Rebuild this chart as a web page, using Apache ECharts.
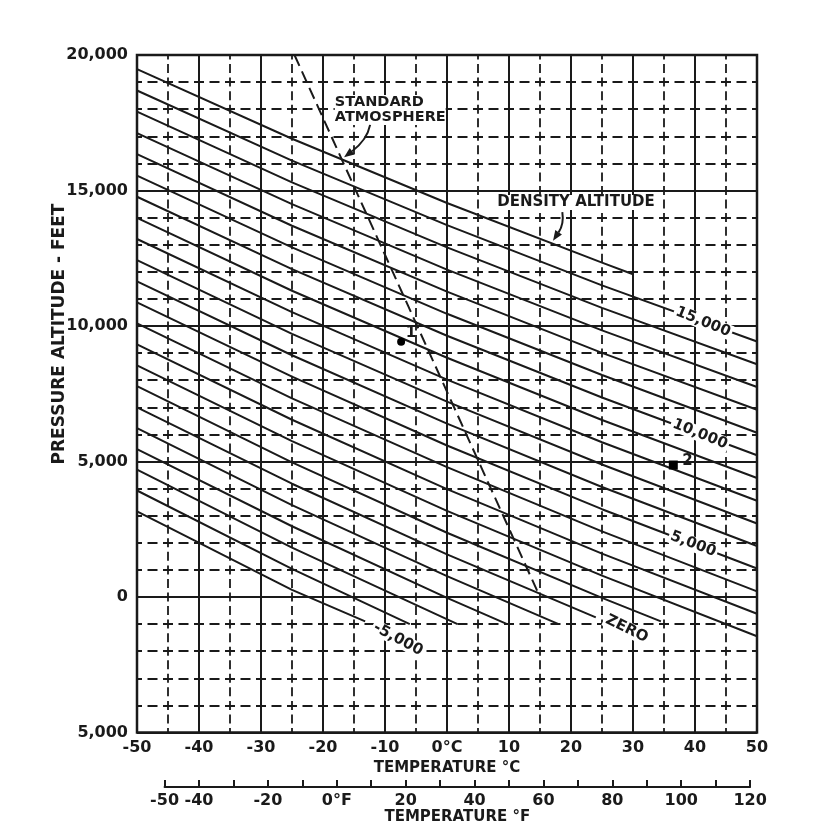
<!DOCTYPE html>
<html>
<head>
<meta charset="utf-8">
<title>Density altitude chart</title>
<script src="https://cdn.jsdelivr.net/npm/echarts@6/dist/echarts.min.js"></script>
<style>
  html, body { margin: 0; padding: 0; background: #fff; }
  #main { width: 828px; height: 839px; }
</style>
</head>
<body>
<div id="main"></div>
<script>
// temperature columns (deg C) at which the density altitude lines were read
const tempCols = [-50, -25, 0, 25, 50]
// density altitude of each diagonal line, feet
const densityAltitudes = [16000, 15000, 14000, 13000, 12000, 11000, 10000, 9000, 8000, 7000, 6000,
  5000, 4000, 3000, 2000, 1000, 0, -1000, -2000, -3000, -4000, -5000]
// pressure altitude of each line at tempCols (null = the line has already stopped)
const lineValues = [
  [19480, 16910, 14540, 12340, null],
  [18690, 16100, 13720, 11500, 9430],
  [17910, 15300, 12900, 10670, 8590],
  [17120, 14500, 12080, 9840, 7750],
  [16340, 13700, 11270, 9010, 6910],
  [15550, 12900, 10450, 8190, 6060],
  [14770, 12100, 9640, 7360, 5230],
  [13990, 11300, 8830, 6530, 4390],
  [13210, 10510, 8020, 5710, 3550],
  [12430, 9710, 7210, 4890, 2710],
  [11650, 8920, 6400, 4060, 1880],
  [10870, 8130, 5590, 3240, 1050],
  [10100, 7330, 4790, 2420, 210],
  [9320, 6540, 3980, 1600, -620],
  [8550, 5750, 3180, 790, -1450],
  [7780, 4970, 2370, -30, null],
  [7000, 4180, 1570, null, null],
  [6230, 3390, 770, null, null],
  [5460, 2610, -30, null, null],
  [4700, 1820, null, null, null],
  [3930, 1040, null, null, null],
  [3160, 260, null, null, null]
]
// where the shorter lines stop: [temp C, pressure altitude ft]
const lineEnds = [
  [30, 11910], null, null, null, null, null, null, null, null, null, null,
  null, null, null, null, [34.5, -900], [24, -750], [18, -1000], [9.7, -1000],
  [1.7, -1000], [-6, -1000], [-13.2, -900]
]
// standard atmosphere (dashed)
const stdAtmosphere = [[-24.6, 20000], [15, 0]]
// numbered example points and their numbers
const point1 = [-7.4, 9420]
const point2 = [36.5, 4870]
const pointNames = ['1', '2']
const pointNamePos = [[-5.8, 9730], [38.8, 5000]]
// labels written along the lines
const lineLabelText = ['15,000', '10,000', '5,000', 'ZERO', '-5,000']
const lineLabelPos = [[41.3, 10150], [40.8, 6010], [39.7, 1950], [29, -1180], [-7.9, -1560]]
const lineLabelAngle = [22, 22, 21, 26, 28]
// callouts: text corners and curved arrows (start, bend, tip)
const stdTextPos = [-18.1, 18520]
const daTextPos = [8.1, 14830]
const stdArrow = [[-12.4, 17420], [-12.9, 16860], [-16.6, 16230]]
const daArrow = [[18.6, 14200], [18.9, 13760], [17.1, 13150]]
// axis ticks
const fahrenheitTicks = [-50, -40, -20, 0, 20, 40, 60, 80, 100, 120]

const ink = '#1a1a1a'
const font = "'DejaVu Sans', sans-serif"

// plot frame in pixels
const plotLeft = 137
const plotRight = 757
const plotTop = 55
const plotBottom = 732.5
const cToPx = c => plotLeft + (c + 50) / 100 * (plotRight - plotLeft)
const fLeft = cToPx((-50 - 32) / 1.8)
const fRight = cToPx((120 - 32) / 1.8)

var myChart = echarts.init(document.getElementById('main'))

const lineSeries = densityAltitudes.map((da, i) => {
  const end = lineEnds[i]
  const pts = []
  tempCols.forEach((t, j) => {
    const v = lineValues[i][j]
    if (v !== null && (!end || t < end[0])) pts.push([t, v])
  })
  if (end) pts.push(end)
  return {
    name: 'DA ' + da,
    type: 'line',
    xAxisIndex: 0,
    yAxisIndex: 0,
    data: pts,
    showSymbol: false,
    silent: true,
    lineStyle: { color: ink, width: 2 },
    z: 3
  }
})

const option = {
  animation: false,
  backgroundColor: '#fff',
  grid: [
    {
      left: plotLeft,
      top: plotTop,
      width: plotRight - plotLeft,
      height: plotBottom - plotTop,
      show: true,
      borderColor: ink,
      borderWidth: 2.5,
      backgroundColor: '#fff',
      outerBoundsMode: 'none'
    },
    {
      left: fLeft,
      top: 786,
      width: fRight - fLeft,
      height: 1,
      outerBoundsMode: 'none'
    }
  ],
  xAxis: [
    {
      type: 'value',
      gridIndex: 0,
      min: -50,
      max: 50,
      interval: 10,
      axisLine: { show: false },
      axisTick: { show: false },
      minorTick: { show: false, splitNumber: 2 },
      splitLine: { show: true, lineStyle: { color: ink, width: 2 } },
      minorSplitLine: {
        show: true,
        lineStyle: { color: ink, width: 1.8, type: [9, 4.55], dashOffset: 4.5 }
      },
      axisLabel: {
        margin: 7,
        color: ink,
        fontFamily: font,
        fontWeight: 'bold',
        fontSize: 16,
        showMinLabel: true,
        showMaxLabel: true,
        formatter: v => (v === 0 ? '0°C' : String(v))
      },
      name: 'TEMPERATURE °C',
      nameLocation: 'middle',
      nameGap: 25,
      nameTextStyle: { color: ink, fontFamily: font, fontWeight: 'bold', fontSize: 15 }
    },
    {
      type: 'value',
      gridIndex: 1,
      min: -50,
      max: 120,
      interval: 10,
      axisLine: { show: true, lineStyle: { color: ink, width: 2 } },
      axisTick: { show: true, inside: true, length: 7, lineStyle: { color: ink, width: 2 } },
      splitLine: { show: false },
      axisLabel: {
        margin: 6,
        color: ink,
        fontFamily: font,
        fontWeight: 'bold',
        fontSize: 16,
        showMinLabel: true,
        showMaxLabel: true,
        formatter: v => {
          if (fahrenheitTicks.indexOf(v) < 0) return ''
          return v === 0 ? '0°F' : String(v)
        }
      },
      name: 'TEMPERATURE °F',
      nameLocation: 'middle',
      nameGap: 22,
      nameTextStyle: { color: ink, fontFamily: font, fontWeight: 'bold', fontSize: 15 }
    }
  ],
  yAxis: [
    {
      type: 'value',
      gridIndex: 0,
      min: -5000,
      max: 20000,
      interval: 5000,
      axisLine: { show: false },
      axisTick: { show: false },
      minorTick: { show: false, splitNumber: 5 },
      splitLine: { show: true, lineStyle: { color: ink, width: 2 } },
      minorSplitLine: {
        show: true,
        lineStyle: { color: ink, width: 1.8, type: [10, 5.5], dashOffset: 5 }
      },
      axisLabel: {
        margin: 9,
        color: ink,
        fontFamily: font,
        fontWeight: 'bold',
        fontSize: 16,
        showMinLabel: true,
        showMaxLabel: true,
        formatter: v => (v === -5000 ? '5,000' : v.toLocaleString('en-US'))
      }
    },
    { type: 'value', gridIndex: 1, show: false, min: 0, max: 1 }
  ],
  series: lineSeries.concat([
    {
      name: 'Standard atmosphere',
      type: 'line',
      data: stdAtmosphere,
      showSymbol: false,
      silent: true,
      lineStyle: { color: ink, width: 2, type: [12, 6] },
      z: 4
    },
    {
      name: 'Points',
      type: 'scatter',
      silent: true,
      z: 5,
      itemStyle: { color: '#000', opacity: 1 },
      label: { show: false },
      data: [
        { value: point1, symbol: 'circle', symbolSize: 8 },
        { value: point2, symbol: 'rect', symbolSize: 9 }
      ]
    }
  ])
}

myChart.setOption(option)

// texts and arrows placed through the chart's own coordinate system
const toPx = p => myChart.convertToPixel({ gridIndex: 0 }, p)
const graphics = lineLabelText.map((text, i) => {
  const p = toPx(lineLabelPos[i])
  return {
    type: 'text',
    x: p[0],
    y: p[1],
    rotation: -lineLabelAngle[i] * Math.PI / 180,
    z: 100,
    style: {
      text: text,
      fill: ink,
      font: 'bold 15px ' + font,
      align: 'center',
      verticalAlign: 'middle',
      backgroundColor: '#fff',
      padding: [0, 2]
    }
  }
})
pointNames.forEach((text, i) => {
  const p = toPx(pointNamePos[i])
  graphics.push({
    type: 'text',
    x: p[0],
    y: p[1],
    z: 100,
    style: { text: text, fill: ink, font: 'bold 15px ' + font, align: 'center', verticalAlign: 'middle' }
  })
})

// curved callout arrow with a filled head
function arrow (pts) {
  const a = toPx(pts[0])
  const c = toPx(pts[1])
  const b = toPx(pts[2])
  const ang = Math.atan2(b[1] - c[1], b[0] - c[0])
  const len = 10
  const half = 4
  const back = [b[0] - len * Math.cos(ang), b[1] - len * Math.sin(ang)]
  const nx = -Math.sin(ang) * half
  const ny = Math.cos(ang) * half
  return [
    {
      type: 'bezierCurve',
      z: 101,
      shape: { x1: a[0], y1: a[1], cpx1: c[0], cpy1: c[1], x2: back[0], y2: back[1] },
      style: { stroke: ink, lineWidth: 2, fill: null }
    },
    {
      type: 'polygon',
      z: 101,
      shape: { points: [b, [back[0] + nx, back[1] + ny], [back[0] - nx, back[1] - ny]] },
      style: { fill: ink }
    }
  ]
}
graphics.push(...arrow(stdArrow), ...arrow(daArrow))

const stdPx = toPx(stdTextPos)
const daPx = toPx(daTextPos)
graphics.push(
  {
    type: 'text',
    x: stdPx[0],
    y: stdPx[1],
    z: 100,
    style: {
      text: 'STANDARD\nATMOSPHERE',
      fill: ink,
      font: 'bold 14.5px ' + font,
      lineHeight: 15,
      align: 'left',
      verticalAlign: 'top',
      backgroundColor: '#fff'
    }
  },
  {
    type: 'text',
    x: daPx[0],
    y: daPx[1],
    z: 100,
    style: {
      text: 'DENSITY ALTITUDE',
      fill: ink,
      font: 'bold 15px ' + font,
      align: 'left',
      verticalAlign: 'top',
      backgroundColor: '#fff'
    }
  },
  {
    type: 'text',
    x: 60,
    y: 334,
    rotation: Math.PI / 2,
    z: 100,
    style: {
      text: 'PRESSURE ALTITUDE - FEET',
      fill: ink,
      font: 'bold 17px ' + font,
      align: 'center',
      verticalAlign: 'middle'
    }
  }
)
myChart.setOption({ graphic: graphics })
</script>
</body>
</html>
